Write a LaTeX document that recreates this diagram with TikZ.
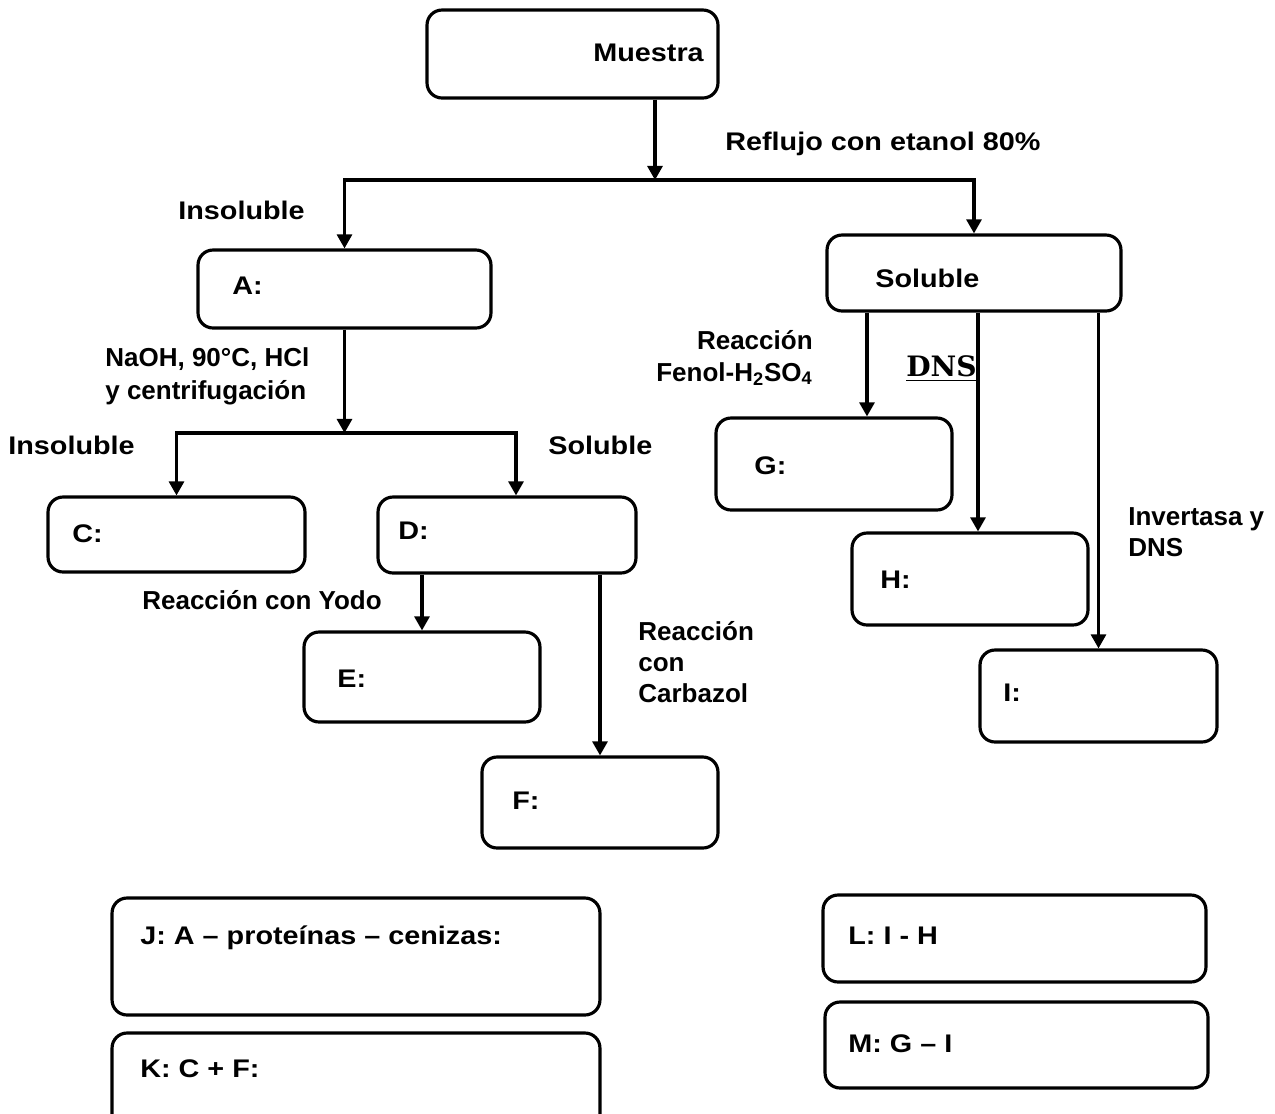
\documentclass[tikz,border=0pt]{standalone}
\usepackage{fontspec}
\setsansfont{Liberation Sans}
\newfontfamily\widesans{Liberation Sans}[FakeStretch=1.13]
\newfontfamily\slabfont{DejaVu Serif}
\usetikzlibrary{arrows.meta}

\tikzset{
  box/.style={draw,line width=1.8pt,rounded corners=0.3cm,inner sep=0pt},
  lbl/.style={font=\widesans\bfseries\fontsize{14.5}{17}\selectfont,inner sep=0pt,anchor=base west},
  rxn/.style={font=\sffamily\bfseries\fontsize{14.8}{17.5}\selectfont,inner sep=0pt,anchor=base west,align=left},
  link/.style={line width=1.8pt},
  arr/.style={link,-{Triangle[length=8pt,width=8.5pt]}}
}

\begin{document}
\begin{tikzpicture}[x=0.02cm,y=-0.02cm]
    \useasboundingbox (0,0) rectangle (1275,1113);
    % boxes
    \foreach \n/\x/\y/\w/\h in {Muestra/572.5/54/5.82/1.76, A/344.5/289/5.86/1.56,
      Sol/974/273/5.88/1.52, C/176.5/534.5/5.14/1.5, D/507/535/5.16/1.52,
      E/422/677/4.72/1.8, F/600/802.5/4.72/1.82, G/834/464/4.72/1.84,
      H/970/579/4.72/1.84, I/1098.5/696/4.74/1.84, J/356/956.5/9.76/2.34,
      K/356/1081.5/9.76/1.94, L/1014.5/938.5/7.66/1.74, M/1016.5/1045/7.66/1.72}{
      \node[box,minimum width=\w cm,minimum height=\h cm] (\n) at (\x,\y) {};
    }
    % texts in the boxes
    \foreach \n/\x/\y/\t in {Muestra/593/52/Muestra, A/232/285/A:, Sol/875/278/Soluble,
      C/72/533/C:, D/398/530/D:, E/337/678/E:, F/512/800/F:, G/754/465/G:,
      H/880/579/H:, I/1003/692/I:, J/140/935/J: A – proteínas – cenizas:,
      K/140/1068/K: C + F:, L/848/935/L: I - H, M/848/1043/M: G – I}{
      \node[lbl] (t\n) at (\x,\y+9) {\t};
    }
    \node[lbl] (tReflujo) at (725,150) {Reflujo con etanol 80\%};
    \node[lbl] (tInsolA) at (178,219) {Insoluble};
    \node[lbl] (tInsolC) at (8,454) {Insoluble};
    \node[lbl] (tSolD) at (548,454) {Soluble};
    % labels on several lines: base = last line
    \node[rxn] (tNaOH) at (105,399) {NaOH, 90°C, HCl\\[1.2pt] y centrifugación};
    \node[rxn] (tYodo) at (142,609) {Reacción con Yodo};
    \node[rxn] (tCarb) at (638,702) {Reacción\\ con\\ Carbazol};
    \node[rxn,align=right,anchor=base east] (tFenol) at (813,381) {Reacción\\[0.6pt] Fenol-H\textsubscript{2}SO\textsubscript{4}};
    \node[rxn] (tInv) at (1128,556) {Invertasa y\\ DNS};
    \node[font=\slabfont\bfseries\fontsize{16}{19}\selectfont,inner sep=0pt,anchor=base west] (tDNS) at (906,376) {DNS};
    \draw[line width=0.6pt] ([yshift=-2.8pt]tDNS.base west) -- ([yshift=-2.8pt]tDNS.base east);
    % connectors
    \coordinate (s1) at (655,180);
    \coordinate (s2) at (344.5,433);
    \coordinate (dIn) at ([xshift=0.18cm]D.north);
    \coordinate (gIn) at ([xshift=0.66cm]G.north);
    \coordinate (hIn) at ([xshift=0.16cm]H.north);
    \draw[arr] (Muestra.south -| s1) -- (s1);
    \draw[arr] (s1) -| (A.north);
    \draw[arr] (s1) -| (Sol.north);
    \draw[arr] (A.south) -- (s2);
    \draw[arr] (s2) -| (C.north);
    \draw[arr] (s2) -| (dIn);
    \draw[arr] (D.south -| E.north) -- (E.north);
    \draw[arr] (D.south -| F.north) -- (F.north);
    \draw[arr] (gIn |- Sol.south) -- (gIn);
    \draw[arr] (hIn |- Sol.south) -- (hIn);
    \draw[arr] (Sol.south -| I.north) -- (I.north);
  \end{tikzpicture}
\end{document}
